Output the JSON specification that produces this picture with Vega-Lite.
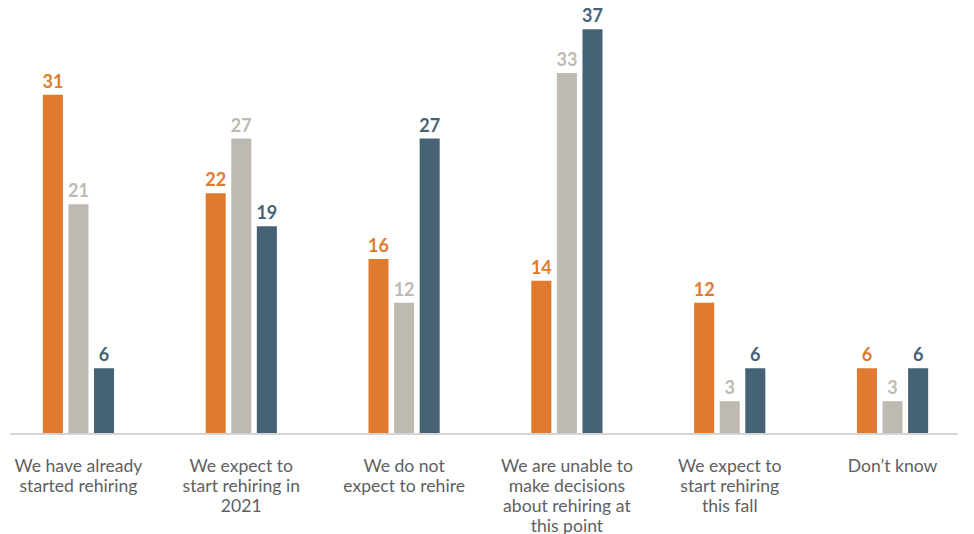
{
  "$schema": "https://vega.github.io/schema/vega-lite/v6.json",
  "width": 977,
  "height": 434,
  "autosize": {"type": "none"},
  "padding": {"top": 0, "left": -3, "right": 0, "bottom": 100},
  "background": "white",
  "config": {"view": {"stroke": null}, "font": "Lato"},
  "data": {
    "values": [
      {"category": "We have already started rehiring", "series": "Group 1", "value": 31},
      {"category": "We have already started rehiring", "series": "Group 2", "value": 21},
      {"category": "We have already started rehiring", "series": "Group 3", "value": 6},
      {"category": "We expect to start rehiring in 2021", "series": "Group 1", "value": 22},
      {"category": "We expect to start rehiring in 2021", "series": "Group 2", "value": 27},
      {"category": "We expect to start rehiring in 2021", "series": "Group 3", "value": 19},
      {"category": "We do not expect to rehire", "series": "Group 1", "value": 16},
      {"category": "We do not expect to rehire", "series": "Group 2", "value": 12},
      {"category": "We do not expect to rehire", "series": "Group 3", "value": 27},
      {"category": "We are unable to make decisions about rehiring at this point", "series": "Group 1", "value": 14},
      {"category": "We are unable to make decisions about rehiring at this point", "series": "Group 2", "value": 33},
      {"category": "We are unable to make decisions about rehiring at this point", "series": "Group 3", "value": 37},
      {"category": "We expect to start rehiring this fall", "series": "Group 1", "value": 12},
      {"category": "We expect to start rehiring this fall", "series": "Group 2", "value": 3},
      {"category": "We expect to start rehiring this fall", "series": "Group 3", "value": 6},
      {"category": "Don’t know", "series": "Group 1", "value": 6},
      {"category": "Don’t know", "series": "Group 2", "value": 3},
      {"category": "Don’t know", "series": "Group 3", "value": 6}
    ]
  },
  "layer": [
    {
      "mark": {"type": "bar"},
      "encoding": {
        "x": {
          "field": "category",
          "type": "nominal",
          "sort": null,
          "scale": {
            "domain": [
              "We have already started rehiring",
              "We expect to start rehiring in 2021",
              "We do not expect to rehire",
              "We are unable to make decisions about rehiring at this point",
              "We expect to start rehiring this fall",
              "Don’t know"
            ],
            "paddingInner": 0.5626,
            "paddingOuter": 0.2816
          },
          "axis": {
            "title": null,
            "domain": false,
            "ticks": false,
            "labelAngle": 0,
            "labelFont": "Lato",
            "labelFontSize": 17.6,
            "labelColor": "#5f5f5f",
            "labelPadding": 23,
            "labelLineHeight": 20,
            "labelBaseline": "top",
            "labelLimit": 400,
            "labelOverlap": false,
            "labelExpr": "({'We have already started rehiring': ['We have already', 'started rehiring'], 'We expect to start rehiring in 2021': ['We expect to', 'start rehiring in', '2021'], 'We do not expect to rehire': ['We do not', 'expect to rehire'], 'We are unable to make decisions about rehiring at this point': ['We are unable to', 'make decisions', 'about rehiring at', 'this point'], 'We expect to start rehiring this fall': ['We expect to', 'start rehiring', 'this fall']})[datum.value] || datum.value"
          }
        },
        "xOffset": {
          "field": "series",
          "type": "nominal",
          "sort": null,
          "scale": {"paddingInner": 0.216, "paddingOuter": 0}
        },
        "y": {
          "field": "value",
          "type": "quantitative",
          "scale": {"domain": [0, 39.67], "nice": false},
          "axis": null
        },
        "color": {
          "field": "series",
          "type": "nominal",
          "scale": {"domain": ["Group 1", "Group 2", "Group 3"], "range": ["#E07A2F", "#BEBAB2", "#456375"]},
          "legend": null
        }
      }
    },
    {
      "mark": {"type": "text", "dy": -7, "baseline": "alphabetic", "fontWeight": "bold", "fontSize": 18, "font": "Lato"},
      "encoding": {
        "x": {"field": "category", "type": "nominal", "sort": null},
        "xOffset": {"field": "series", "type": "nominal", "sort": null},
        "y": {"field": "value", "type": "quantitative"},
        "text": {"field": "value", "type": "quantitative"},
        "color": {"field": "series", "type": "nominal", "legend": null}
      }
    },
    {
      "data": {"values": [{"from": "We have already started rehiring", "to": "Don’t know"}]},
      "mark": {"type": "rule", "color": "#d4d4d4", "strokeWidth": 2},
      "encoding": {
        "x": {"field": "from", "type": "nominal", "bandPosition": -0.46},
        "x2": {"field": "to", "bandPosition": 1.414},
        "y": {"datum": 0, "type": "quantitative"}
      }
    }
  ]
}
